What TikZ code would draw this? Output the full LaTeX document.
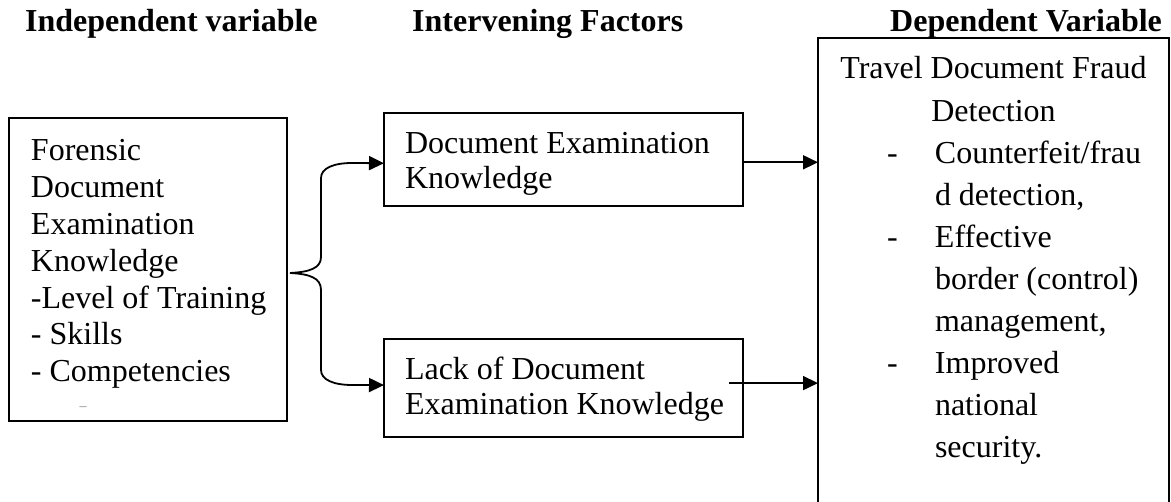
\documentclass[tikz,border=0pt]{standalone}
\usepackage{fontspec}
\setmainfont{Liberation Serif}
\usetikzlibrary{arrows.meta,calc}
\tikzset{
  box/.style={draw, line width=1.4pt, inner sep=0pt, outer sep=0pt, anchor=north west},
  conn/.style={line width=1.8pt, -{Triangle[length=15pt,width=14pt]}},
  head/.style={font=\fontsize{32}{36}\selectfont\bfseries, anchor=base west, inner sep=0pt},
}
\newcommand\itemdash{\llap{\makebox[48pt][l]{-}}}
\begin{document}
\begin{tikzpicture}[x=1pt,y=-1pt]
\useasboundingbox (0,0) rectangle (1171,502);
\clip (0,0) rectangle (1171,502);
% headers
\node[head] (h1) at (25,32) {Independent variable};
\node[head] (h2) at (412,32) {Intervening Factors};
\node[head] (h3) at (890,32) {Dependent Variable};
% boxes
\node[box] (ind) at (9,118) {\parbox[c][303pt][t]{278pt}{\fontsize{32}{36.8}\selectfont\leftskip=22pt\vspace*{17.2pt}\strut Forensic\\Document\\Examination\\Knowledge\\-Level of Training\\- Skills\\- Competencies}};
\node[font=\fontsize{14}{14}\selectfont, text=gray, inner sep=0pt] (dash) at (83,409) {\textendash};
\node[box] (doc) at (384,113) {\parbox[c][93pt][t]{359pt}{\fontsize{32}{35}\selectfont\leftskip=21pt\vspace*{16.5pt}\strut Document Examination\\Knowledge}};
\node[box] (lack) at (384,339) {\parbox[c][98pt][t]{359pt}{\fontsize{32}{35}\selectfont\leftskip=21pt\vspace*{16.5pt}\strut Lack of Document\\Examination Knowledge}};
\node[box] (dep) at (818,38) {\parbox[c][490pt][t]{351pt}{\fontsize{32}{42.1}\selectfont\vspace*{11.5pt}{\centering\strut Travel Document Fraud\\Detection\par}\leftskip=117pt \noindent\itemdash Counterfeit/frau\\d detection,\\\itemdash Effective\\border (control)\\management,\\\itemdash Improved\\national\\security.}};
% brace connectors
\coordinate (tip) at (290,273);
\draw[conn] (tip) .. controls (310,272) and (321,268) .. (321,257) -- (321,178) .. controls (321,168) and (334,163) .. (352,163) -- ($(doc.north west)!0.54!(doc.south west)$);
\draw[conn] (tip) .. controls (310,274) and (321,278) .. (321,290) -- (321,370) .. controls (321,380) and (334,385) .. (352,385) -- ($(lack.north west)!0.47!(lack.south west)$);
% to dependent variable
\coordinate (a1) at ($(doc.north east)!0.53!(doc.south east)$);
\draw[conn] (a1) -- (a1 -| dep.west);
\coordinate (a2) at ($(lack.north east)!0.45!(lack.south east)+(-14,0)$);
\draw[conn] (a2) -- (a2 -| dep.west);
\end{tikzpicture}
\end{document}
